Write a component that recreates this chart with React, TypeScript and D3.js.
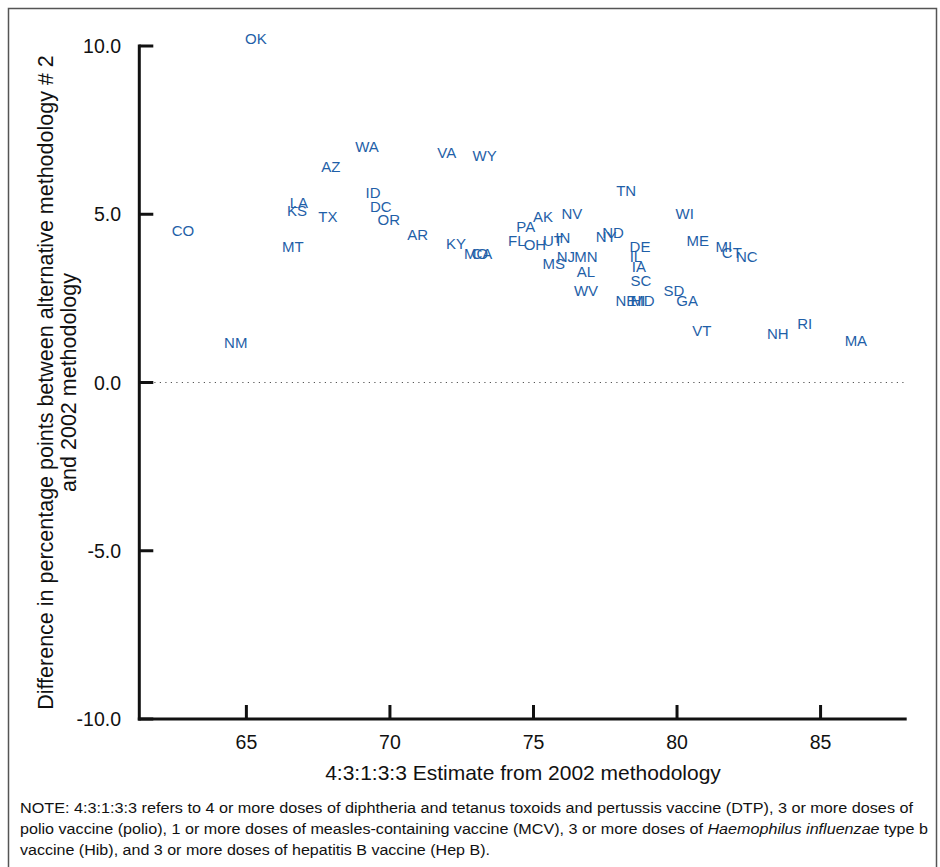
import React from "react";
import * as d3 from "d3";

const states = ["OK","CO","NM","MT","LA","KS","TX","AZ","WA","ID","DC","OR","AR","VA","WY","KY","MO","CA","PA","AK","NV","FL","OH","UT","IN","MS","NJ","MN","AL","WV","TN","NY","ND","DE","IL","IA","SC","NE","HI","MD","SD","GA","WI","ME","MI","CT","NC","VT","NH","RI","MA"];
const estimate2002 = [65.33,62.79,64.63,66.62,66.83,66.76,67.84,67.94,69.20,69.41,69.68,69.96,70.97,71.98,73.30,72.30,73.00,73.20,74.73,75.33,76.34,74.42,75.05,75.68,76.02,75.71,76.13,76.83,76.83,76.83,78.23,77.53,77.77,78.71,78.57,78.67,78.74,78.22,78.64,78.81,79.89,80.35,80.27,80.72,81.63,81.91,82.43,80.86,83.51,84.45,86.23];
const difference = [10.21,4.50,1.20,4.03,5.34,5.10,4.92,6.43,7.00,5.63,5.22,4.83,4.41,6.82,6.73,4.12,3.82,3.82,4.62,4.92,5.01,4.23,4.09,4.21,4.32,3.52,3.73,3.73,3.31,2.72,5.69,4.35,4.44,4.03,3.73,3.43,3.02,2.42,2.42,2.42,2.72,2.42,5.01,4.21,4.03,3.85,3.73,1.53,1.44,1.74,1.24];

const xTicks = [65, 70, 75, 80, 85];
const yTicks = [10, 5, 0, -5, -10];
const xTitle = "4:3:1:3:3 Estimate from 2002 methodology";
const yTitle1 = "Difference in percentage points between alternative methodology # 2";
const yTitle2 = "and 2002 methodology";

const FONT = "'Liberation Sans', Arial, Helvetica, sans-serif";
const BLUE = "#1f5fa8";

export default function App() {
  const x = d3.scaleLinear().domain([61.27, 88]).range([139.3, 906.7]);
  const y = d3.scaleLinear().domain([-10, 10]).range([719, 46]);
  const data = states.map((s, i) => ({ s, x: estimate2002[i], y: difference[i] }));
  const yMid = (y(10) + y(-10)) / 2;
  return (
    <svg width={940} height={867} style={{ position: "absolute", left: 0, top: 0 }} fontFamily={FONT}>
      <rect x={0} y={0} width={940} height={867} fill="#fff" />
      <rect x={8.5} y={8.5} width={928} height={880} fill="none" stroke="#555" strokeWidth={1.5} />
      {/* zero line */}
      <line x1={x(61.27) + 4} x2={x(88) - 2} y1={y(0)} y2={y(0)} stroke="#555" strokeWidth={1} strokeDasharray="1.2,4.3" />
      {/* y axis */}
      <line x1={x(61.27)} x2={x(61.27)} y1={y(10) - 1.5} y2={y(-10) + 1.5} stroke="#111" strokeWidth={3} />
      {yTicks.map((t) => (
        <g key={"y" + t}>
          <line x1={x(61.27)} x2={x(61.27) + 14} y1={y(t)} y2={y(t)} stroke="#111" strokeWidth={3} />
          <text x={121} y={y(t)} dy="0.36em" textAnchor="end" fontSize={19.5} fill="#111">{t.toFixed(1)}</text>
        </g>
      ))}
      {/* x axis */}
      <line x1={x(61.27) - 1.5} x2={x(88)} y1={y(-10)} y2={y(-10)} stroke="#111" strokeWidth={3} />
      {xTicks.map((t) => (
        <g key={"x" + t}>
          <line x1={x(t)} x2={x(t)} y1={y(-10)} y2={y(-10) - 14} stroke="#111" strokeWidth={3} />
          <text x={x(t)} y={749} textAnchor="middle" fontSize={19.5} fill="#111">{t}</text>
        </g>
      ))}
      <text x={523} y={780} textAnchor="middle" fontSize={21} fill="#111">{xTitle}</text>
      <text transform={`translate(53,${yMid}) rotate(-90)`} textAnchor="middle" fontSize={21.5} fill="#111">{yTitle1}</text>
      <text transform={`translate(76,${yMid}) rotate(-90)`} textAnchor="middle" fontSize={21.5} fill="#111">{yTitle2}</text>
      {/* labels */}
      {data.map((d) => (
        <text key={d.s} x={x(d.x)} y={y(d.y)} dy="0.36em" textAnchor="middle" fontSize={15} fill={BLUE}>{d.s}</text>
      ))}
      {/* note */}
      <text x={20} y={813} fontSize={15.5} fill="#111" textLength={893} lengthAdjust="spacingAndGlyphs">NOTE: 4:3:1:3:3 refers to 4 or more doses of diphtheria and tetanus toxoids and pertussis vaccine (DTP), 3 or more doses of</text>
      <text x={20} y={834} fontSize={15.5} fill="#111" textLength={908} lengthAdjust="spacingAndGlyphs">polio vaccine (polio), 1 or more doses of measles-containing vaccine (MCV), 3 or more doses of <tspan fontStyle="italic">Haemophilus influenzae</tspan> type b</text>
      <text x={20} y={855} fontSize={15.5} fill="#111" textLength={470} lengthAdjust="spacingAndGlyphs">vaccine (Hib), and 3 or more doses of hepatitis B vaccine (Hep B).</text>
    </svg>
  );
}
